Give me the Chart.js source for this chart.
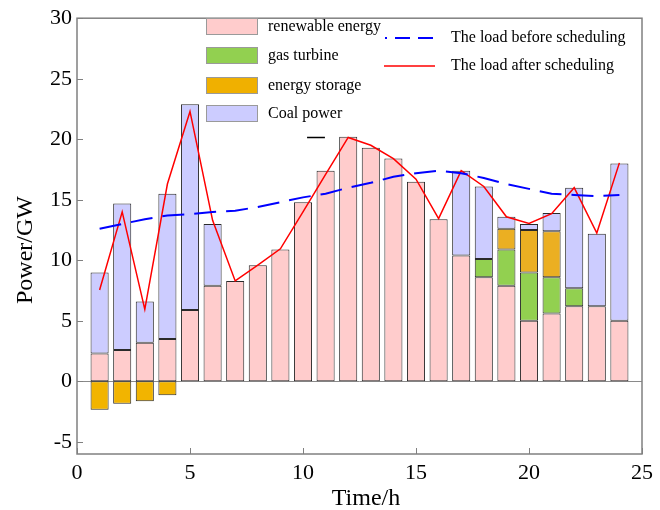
<!DOCTYPE html>
<html>
<head>
<meta charset="utf-8">
<script src="https://cdn.jsdelivr.net/npm/chart.js@4"></script>
<style>
  html, body { margin: 0; padding: 0; background: #ffffff; }
  #wrap { width: 660px; height: 510px; }
</style>
</head>
<body>
<div id="wrap"><canvas id="c" width="660" height="510"></canvas></div>
<script>
// ---- data ----
const hours = [1,2,3,4,5,6,7,8,9,10,11,12,13,14,15,16,17,18,19,20,21,22,23,24];
const renewable = [2.3,2.6,3.2,3.5,5.9,7.9,8.3,9.6,10.9,14.8,17.4,20.2,19.3,18.4,16.5,13.4,10.4,8.6,7.9,5.0,5.6,6.2,6.2,5.0];
const gasTurbine = [null,null,null,null,null,null,null,null,null,null,null,null,null,null,null,null,null,1.5,3.0,4.0,3.0,1.5,null,null];
const energyStorage = [-2.35,-1.85,-1.65,-1.15,null,null,null,null,null,null,null,null,null,null,null,null,null,null,1.7,3.5,3.8,null,null,null];
const coalPower = [6.7,12.1,3.4,12.0,17.0,5.1,null,null,null,null,null,null,null,null,null,null,7.0,6.0,1.0,0.5,1.5,8.3,6.0,13.0];
const loadBefore = [12.6,13.0,13.4,13.7,13.8,14.0,14.1,14.4,14.8,15.2,15.5,16.0,16.4,16.9,17.2,17.4,17.2,16.8,16.3,15.9,15.5,15.4,15.3,15.4];
const loadAfter = [7.55,14.0,5.95,16.3,22.3,13.3,8.3,9.6,10.95,14.0,17.1,20.15,19.5,18.4,16.7,13.45,17.4,16.1,13.6,13.05,13.85,16.0,12.25,18.05];
const stubX = [10.18,10.97];
const stubY = [20.15,20.15];
const xTicks = [0,5,10,15,20,25];
const yTicks = [-5,0,5,10,15,20,25,30];
const legendLabels = ['renewable energy','gas turbine','energy storage','Coal power','The load before scheduling','The load after scheduling'];
const xTitle = 'Time/h';
const yTitle = 'Power/GW';

const pts = (xs, ys) => xs.map((x, i) => ({x: x, y: ys[i]}));
const SERIF = '"Liberation Serif", "Times New Roman", serif';

const COL = {
  ren: '#FFCCCC', gas: '#92D050', stoPos: '#EBAF22', stoNeg: '#F2B400', coal: '#CCCCFF'
};

const barCommon = {
  type: 'bar', order: 2, borderColor: '#2a2a2a', borderWidth: 1,
  barPercentage: 0.8, categoryPercentage: 1.0, borderSkipped: false
};

const framePlugin = {
  id: 'framePlugin',
  beforeDatasetsDraw(chart) {
    const {ctx, chartArea: a, scales} = chart;
    const y0 = scales.y.getPixelForValue(0);
    ctx.save();
    ctx.strokeStyle = '#8a8a8a';
    ctx.lineWidth = 1;
    ctx.beginPath();
    ctx.moveTo(a.left, Math.round(y0) + 0.5);
    ctx.lineTo(a.right, Math.round(y0) + 0.5);
    ctx.stroke();
    ctx.restore();
  },
  afterDraw(chart) {
    const {ctx, chartArea: a, scales} = chart;
    ctx.save();
    ctx.strokeStyle = '#808080';
    ctx.lineWidth = 1.5;
    ctx.strokeRect(a.left, a.top, a.right - a.left, a.bottom - a.top);
    ctx.lineWidth = 1;
    ctx.beginPath();
    yTicks.forEach(v => {
      const py = Math.round(scales.y.getPixelForValue(v)) + 0.5;
      ctx.moveTo(a.left, py); ctx.lineTo(a.left + 6, py);
    });
    xTicks.forEach(v => {
      const px = Math.round(scales.x.getPixelForValue(v)) + 0.5;
      ctx.moveTo(px, a.bottom); ctx.lineTo(px, a.bottom - 6);
    });
    ctx.stroke();

    // axis titles
    ctx.fillStyle = '#000';
    ctx.font = '24px ' + SERIF;
    ctx.textAlign = 'center';
    ctx.textBaseline = 'alphabetic';
    ctx.fillText(xTitle, 366, 505);
    ctx.save();
    ctx.translate(32, 250);
    ctx.rotate(-Math.PI / 2);
    ctx.fillText(yTitle, 0, 0);
    ctx.restore();

    // legend
    ctx.font = '16px ' + SERIF;
    ctx.fillStyle = '#000';
    ctx.textBaseline = 'middle';
    ctx.textAlign = 'left';
    const boxes = [
      {c: COL.ren, y: 18}, {c: COL.gas, y: 47}, {c: '#F0B000', y: 77}, {c: COL.coal, y: 105}
    ];
    boxes.forEach((b, i) => {
      ctx.fillStyle = b.c;
      ctx.fillRect(206, b.y, 52, 17);
      ctx.strokeStyle = '#9a9a9a';
      ctx.lineWidth = 1;
      ctx.strokeRect(206.5, b.y + 0.5, 51, 16);
      ctx.fillStyle = '#000';
      ctx.fillText(legendLabels[i], 268, b.y + 9);
    });
    ctx.strokeStyle = '#0000FF';
    ctx.lineWidth = 2;
    ctx.setLineDash([15, 8]);
    ctx.lineDashOffset = 13;
    ctx.beginPath(); ctx.moveTo(385, 38); ctx.lineTo(435, 38); ctx.stroke();
    ctx.setLineDash([]);
    ctx.strokeStyle = '#FF0000';
    ctx.lineWidth = 1.5;
    ctx.beginPath(); ctx.moveTo(384, 66); ctx.lineTo(435, 66); ctx.stroke();
    ctx.fillStyle = '#000';
    ctx.fillText(legendLabels[4], 451, 38);
    ctx.fillText(legendLabels[5], 451, 66);
    ctx.restore();
  }
};

new Chart(document.getElementById('c'), {
  data: {
    datasets: [
      Object.assign({}, barCommon, {label: legendLabels[0], data: pts(hours, renewable), backgroundColor: COL.ren}),
      Object.assign({}, barCommon, {label: legendLabels[1], data: pts(hours, gasTurbine), backgroundColor: COL.gas}),
      Object.assign({}, barCommon, {label: legendLabels[2], data: pts(hours, energyStorage),
        backgroundColor: (c) => (c.raw && c.raw.y < 0) ? COL.stoNeg : COL.stoPos}),
      Object.assign({}, barCommon, {label: legendLabels[3], data: pts(hours, coalPower), backgroundColor: COL.coal}),
      {type: 'line', order: 1, stack: 'lb', label: legendLabels[4], data: pts(hours, loadBefore),
        borderColor: '#0000FF', borderWidth: 2, borderDash: [22, 10], pointRadius: 0, fill: false, tension: 0},
      {type: 'line', order: 1, stack: 'la', label: legendLabels[5], data: pts(hours, loadAfter),
        borderColor: '#FF0000', borderWidth: 1.5, pointRadius: 0, fill: false, tension: 0},
      {type: 'line', order: 1, stack: 'st', label: '', data: pts(stubX, stubY),
        borderColor: '#000000', borderWidth: 1.5, pointRadius: 0, fill: false}
    ]
  },
  options: {
    responsive: false,
    animation: false,
    devicePixelRatio: 1,
    layout: { padding: { top: 14, right: 18, left: 0, bottom: 0 } },
    plugins: { legend: { display: false }, tooltip: { enabled: false } },
    scales: {
      x: {
        type: 'linear', min: 0, max: 25, stacked: true, offset: false,
        grid: { display: false, drawTicks: false }, border: { display: false },
        afterBuildTicks: (s) => { s.ticks = xTicks.map(v => ({value: v})); },
        afterFit: (s) => { s.height = 56; },
        ticks: { color: '#000', font: { family: SERIF, size: 22 }, padding: 6, maxRotation: 0 },
        title: { display: false }
      },
      y: {
        type: 'linear', min: -6, max: 30, stacked: true,
        grid: { display: false, drawTicks: false }, border: { display: false },
        afterBuildTicks: (s) => { s.ticks = yTicks.map(v => ({value: v})); },
        afterFit: (s) => { s.width = 77; },
        ticks: { color: '#000', font: { family: SERIF, size: 22 }, padding: 5 },
        title: { display: false }
      }
    }
  },
  plugins: [framePlugin]
});
</script>
</body>
</html>
